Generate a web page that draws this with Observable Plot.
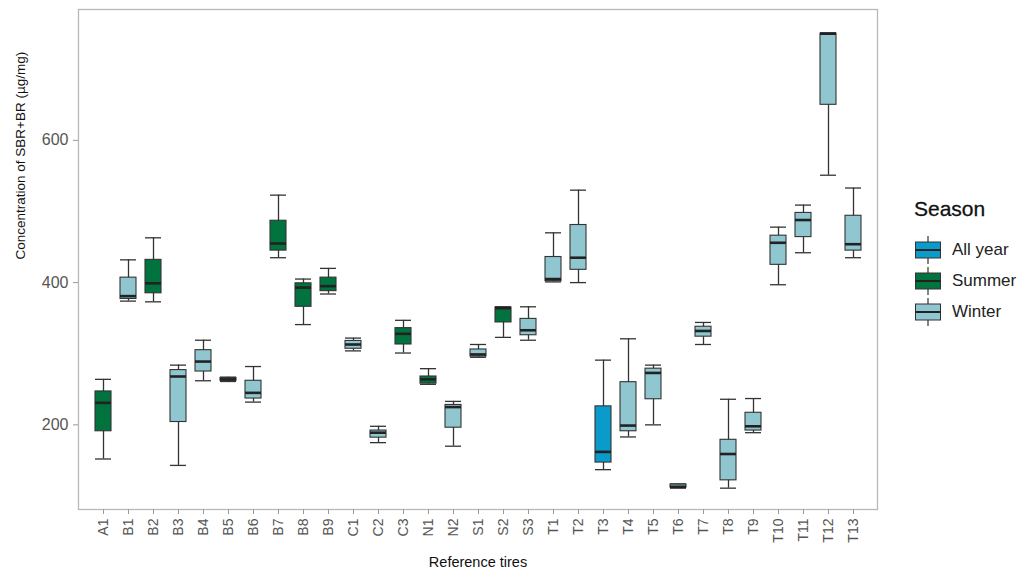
<!DOCTYPE html>
<html>
<head>
<meta charset="utf-8">
<script src="https://cdn.jsdelivr.net/npm/d3@7"></script>
<script src="https://cdn.jsdelivr.net/npm/@observablehq/plot@0.6"></script>
<style>
  body { margin: 0; background: #fff; font-family: "Liberation Sans", Arial, sans-serif; }
  #wrap { position: relative; width: 1032px; height: 575px; }
  #legend { position: absolute; left: 914px; top: 197px; color: #111; }
  #legend .title { font-size: 21px; margin-bottom: 13px; -webkit-text-stroke: 0.3px #111; }
  #legend .item { display: flex; align-items: center; height: 31px; font-size: 17px; color: #222; }
  #legend svg { margin-right: 10px; }
</style>
</head>
<body>
<div id="wrap">
  <div id="chart"></div>
  <div id="legend"></div>
</div>
<script>
const tires   = ["A1","B1","B2","B3","B4","B5","B6","B7","B8","B9","C1","C2","C3","N1","N2","S1","S2","S3","T1","T2","T3","T4","T5","T6","T7","T8","T9","T10","T11","T12","T13"];
const seasons = ["Summer","Winter","Summer","Winter","Winter","Winter","Winter","Summer","Summer","Summer","Winter","Winter","Summer","Summer","Winter","Winter","Summer","Winter","Winter","Winter","All year","Winter","Winter","Winter","Winter","Winter","Winter","Winter","Winter","Winter","Winter"];
const lowers  = [152,374,373,143,262,261,232,435,341,384,304,175,301,257,170,295,323,319,401,400,137,183,200,111,313,111,189,397,442,551,435];
const q1s     = [191,377,385,204,275,262,237,445,366,388,307,182,313,258,196,296,344,326,402,418,147,191,236,112,324,122,192,425,464,650,445];
const medians = [231,381,399,268,289,264,245,455,393,395,313,189,328,264,225,299,364,333,405,435,162,199,273,113,332,159,198,456,488,750,454];
const q3s     = [247,407,432,277,305,266,262,487,399,407,318,192,336,268,228,306,365,349,436,481,226,260,279,116,338,179,217,466,498,750,494];
const uppers  = [264,432,463,284,319,267,282,523,405,420,322,198,347,279,233,313,366,366,470,530,291,321,284,117,344,236,237,478,509,751,533];

const seasonDomain = ["All year","Summer","Winter"];
const seasonColors = ["#0a9bcb","#00733e","#8fc6cf"];

const data = tires.map((t, i) => ({
  tire: t, season: seasons[i], lo: lowers[i], q1: q1s[i], med: medians[i], q3: q3s[i], hi: uppers[i]
}));

const ink = "#333333";
const plot = Plot.plot({
  width: 1032,
  height: 575,
  marginLeft: 78,
  marginRight: 155,
  marginTop: 9,
  marginBottom: 66,
  style: { fontFamily: "Liberation Sans, Arial, sans-serif", background: "#fff" },
  x: { type: "band", domain: tires, paddingInner: 0.38, paddingOuter: 0.28, label: null },
  y: { domain: [81, 784], label: null },
  color: { domain: seasonDomain, range: seasonColors },
  marks: [
    Plot.frame({ stroke: "#b8b8b8", strokeWidth: 1.3 }),
    Plot.ruleX(data, { x: "tire", y1: "lo", y2: "hi", stroke: ink, strokeWidth: 1.3 }),
    Plot.tickY(data, { x: "tire", y: "lo", stroke: ink, strokeWidth: 1.3 }),
    Plot.tickY(data, { x: "tire", y: "hi", stroke: ink, strokeWidth: 1.3 }),
    Plot.barY(data, { x: "tire", y1: "q1", y2: "q3", fill: "season", stroke: ink, strokeWidth: 1.1 }),
    Plot.tickY(data, { x: "tire", y: "med", stroke: "#222", strokeWidth: 2.6 }),
    Plot.axisY({ ticks: [200, 400, 600], tickSize: 5, tickPadding: 5, stroke: "#999", fill: "#555", fontSize: 16, label: null }),
    Plot.axisX({ tickSize: 5, tickPadding: 4, tickRotate: -90, stroke: "#999", fill: "#555", fontSize: 14, label: null }),
    Plot.text(["Concentration of SBR+BR (µg/mg)"], { frameAnchor: "left", dx: -58, rotate: -90, fontSize: 13.5, fill: "#111" }),
    Plot.text(["Reference tires"], { frameAnchor: "bottom", dy: 57, fontSize: 14.5, fill: "#111" })
  ]
});
document.getElementById("chart").appendChild(plot);

// legend
const lg = document.getElementById("legend");
const title = document.createElement("div");
title.className = "title";
title.textContent = "Season";
lg.appendChild(title);
seasonDomain.forEach((s, i) => {
  const item = document.createElement("div");
  item.className = "item";
  const ns = "http://www.w3.org/2000/svg";
  const svg = document.createElementNS(ns, "svg");
  svg.setAttribute("width", 28); svg.setAttribute("height", 28);
  const line = document.createElementNS(ns, "line");
  line.setAttribute("x1", 14); line.setAttribute("x2", 14); line.setAttribute("y1", 0); line.setAttribute("y2", 28);
  line.setAttribute("stroke", ink); line.setAttribute("stroke-width", 1.2);
  const rect = document.createElementNS(ns, "rect");
  rect.setAttribute("x", 1.5); rect.setAttribute("y", 6); rect.setAttribute("width", 25); rect.setAttribute("height", 16);
  rect.setAttribute("fill", seasonColors[i]); rect.setAttribute("stroke", ink); rect.setAttribute("stroke-width", 1);
  const med = document.createElementNS(ns, "line");
  med.setAttribute("x1", 1.5); med.setAttribute("x2", 26.5); med.setAttribute("y1", 14); med.setAttribute("y2", 14);
  med.setAttribute("stroke", "#222"); med.setAttribute("stroke-width", 2);
  svg.appendChild(line); svg.appendChild(rect); svg.appendChild(med);
  item.appendChild(svg);
  const label = document.createElement("span");
  label.textContent = s;
  item.appendChild(label);
  lg.appendChild(item);
});
</script>
</body>
</html>
